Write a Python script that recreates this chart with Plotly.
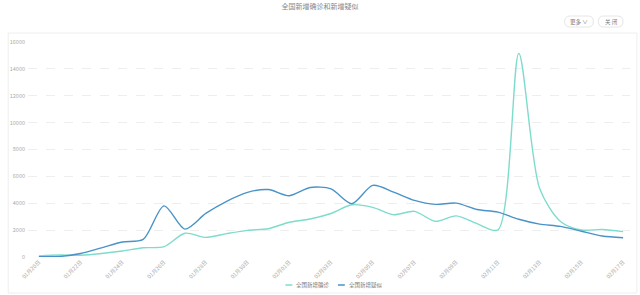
import plotly.graph_objects as go

dates = ["01月20日","01月21日","01月22日","01月23日","01月24日","01月25日","01月26日","01月27日",
         "01月28日","01月29日","01月30日","01月31日","02月01日","02月02日","02月03日","02月04日",
         "02月05日","02月06日","02月07日","02月08日","02月09日","02月10日","02月11日","02月12日",
         "02月13日","02月14日","02月15日","02月16日","02月17日"]
confirmed = [77, 149, 131, 259, 444, 688, 769, 1771, 1459, 1737, 1982, 2102, 2590, 2829, 3235, 3887,
             3694, 3143, 3399, 2656, 3062, 2478, 2015, 15152, 5090, 2641, 2009, 2048, 1886]
suspected = [27, 40, 257, 680, 1118, 1309, 3806, 2077, 3248, 4148, 4812, 5019, 4562, 5173, 5072, 3971,
             5328, 4833, 4214, 3916, 4008, 3536, 3342, 2807, 2450, 2277, 1918, 1563, 1432]
y_ticks = [0, 2000, 4000, 6000, 8000, 10000, 12000, 14000, 16000]
series_names = ["全国新增确诊", "全国新增疑似"]
series_colors = ["#7ddccb", "#4a93c8"]

x = list(range(len(dates)))
fig = go.Figure()
for name, vals, col in zip(series_names, [confirmed, suspected], series_colors):
    fig.add_trace(go.Scatter(x=x, y=vals, name=name, mode="lines", showlegend=False,
                             line=dict(color=col, width=1.4, shape="spline", smoothing=0.8)))

font = "Noto Sans CJK SC"
L, R, T, B = 22, 10, 42, 38
PW, PH = 640 - L - R, 295 - T - B
def px(v): return (v - L) / PW
def py(v): return (295 - B - v) / PH

fig.update_layout(
    width=640, height=295,
    margin=dict(l=L, r=R, t=T, b=B),
    paper_bgcolor="white", plot_bgcolor="white",
    font=dict(family=font, size=6, color="#888"),
    xaxis=dict(range=[-0.52, 28.33], tickmode="array", tickvals=x[::2], ticktext=dates[::2],
               tickangle=-45, showgrid=False, zeroline=False, showline=False,
               tickfont=dict(size=5.5, color="#aaa")),
    yaxis=dict(range=[0, 16000], tickmode="array", tickvals=y_ticks,
               ticktext=[str(v) for v in y_ticks], showgrid=True, gridcolor="#eeeeee",
               griddash="dash", gridwidth=1, zeroline=False, showline=False,
               tickfont=dict(size=5.5, color="#aaa"), ticklabelstandoff=2),
    title=dict(text="全国新增确诊和新增疑似", x=0.5, xanchor="center", y=0.985, yanchor="top",
               font=dict(size=7, color="#888", family=font)),
)
# outer border box
fig.add_shape(type="rect", xref="paper", yref="paper",
              x0=px(2), x1=px(637), y0=py(293), y1=py(33),
              line=dict(color="#eeeeee", width=1), fillcolor="rgba(0,0,0,0)", layer="below")

# pill buttons
def pill(x0, x1, y0, y1):
    r = (y1 - y0) / 2
    ym = (y0 + y1) / 2
    pts = (f"M {px(x0 + r)},{py(y0)} L {px(x1 - r)},{py(y0)} "
           f"Q {px(x1)},{py(y0)} {px(x1)},{py(ym)} Q {px(x1)},{py(y1)} {px(x1 - r)},{py(y1)} "
           f"L {px(x0 + r)},{py(y1)} Q {px(x0)},{py(y1)} {px(x0)},{py(ym)} "
           f"Q {px(x0)},{py(y0)} {px(x0 + r)},{py(y0)} Z")
    return pts

for txt, x0, x1 in [("更多 ∨", 564, 593), ("关 闭", 598, 623)]:
    fig.add_shape(type="path", xref="paper", yref="paper", path=pill(x0, x1, 16, 27),
                  line=dict(color="#e6e6e6", width=1), fillcolor="white")
    fig.add_annotation(text=txt, xref="paper", yref="paper",
                       x=px((x0 + x1) / 2), y=py(21.5), xanchor="center", yanchor="middle",
                       showarrow=False, font=dict(size=5.5, color="#777", family=font))
# legend
for name, col, lx in zip(series_names, series_colors, [282, 335]):
    fig.add_shape(type="line", xref="paper", yref="paper",
                  x0=px(lx), x1=px(lx + 7), y0=py(285), y1=py(285),
                  line=dict(color=col, width=1.5))
    fig.add_annotation(text=name, xref="paper", yref="paper", x=px(lx + 9), y=py(285),
                       xanchor="left", yanchor="middle", showarrow=False,
                       font=dict(size=5.5, color="#777", family=font))

fig.write_html("out.html")
